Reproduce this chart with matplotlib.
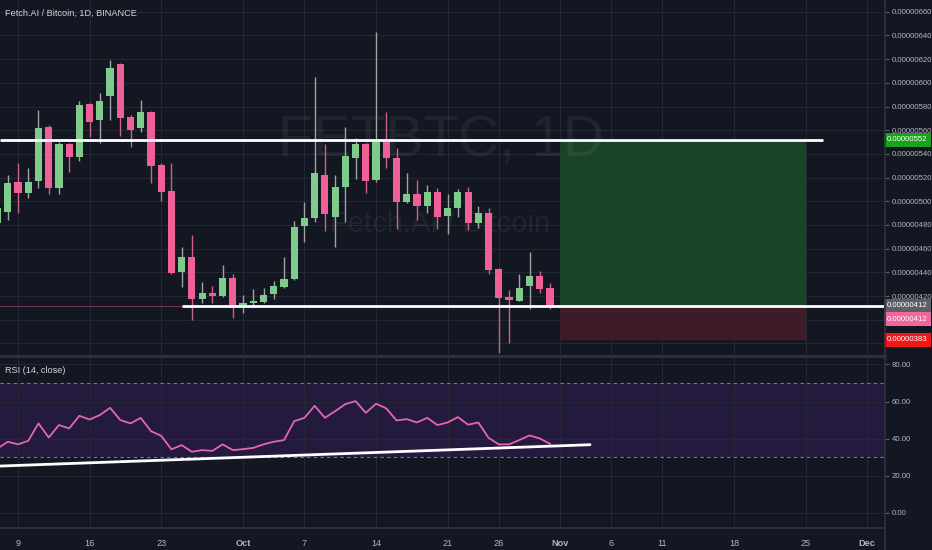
import matplotlib
matplotlib.use("agg")
import matplotlib.pyplot as plt
import matplotlib.dates as mdates
from matplotlib.lines import Line2D
import pandas as pd

plt.rcParams['font.family'] = ['Liberation Sans', 'DejaVu Sans']

# ---- data (price in units of 1e-8 BTC) ----
dates = pd.date_range("2019-09-07", "2019-10-31", freq="D")
opens = [481.7, 491.0, 516.3, 507.0, 517.1, 562.7, 511.2, 548.4, 537.4, 582.1, 568.6, 588.9,
         615.9, 571.1, 561.9, 575.4, 530.6, 508.7, 440.3, 453.0, 417.5, 422.6, 420.1, 435.3,
         412.5, 414.2, 415.0, 421.8, 427.7, 434.4, 479.2, 485.9, 522.2, 486.8, 512.1, 536.6,
         548.4, 518.0, 550.0, 536.6, 499.4, 506.2, 496.0, 507.8, 487.6, 494.3, 507.8, 481.7,
         490.1, 442.9, 419.2, 415.9, 428.5, 437.0, 426.8]
highs = [496.0, 522.2, 532.3, 528.1, 577.0, 564.0, 550.0, 549.2, 584.6, 583.0, 591.4, 619.2,
         616.5, 572.8, 585.5, 576.0, 532.3, 532.3, 461.4, 471.6, 431.9, 428.5, 446.2, 438.7,
         420.9, 426.0, 426.8, 432.7, 453.0, 483.4, 499.4, 604.9, 548.4, 522.2, 562.7, 553.4,
         549.0, 642.9, 575.4, 545.0, 523.9, 518.0, 513.8, 511.2, 506.2, 510.4, 512.1, 496.0,
         494.3, 443.5, 425.1, 438.7, 457.2, 441.2, 431.0]
lows = [478.0, 484.2, 490.1, 502.8, 511.2, 506.2, 506.2, 524.7, 534.0, 554.3, 549.2, 568.6,
        555.1, 545.9, 558.5, 515.4, 500.3, 439.0, 427.7, 399.8, 414.2, 414.2, 419.5, 401.5,
        405.7, 412.5, 414.2, 417.5, 427.0, 433.6, 465.7, 482.5, 475.0, 461.4, 482.5, 518.8,
        507.0, 516.3, 528.1, 476.7, 498.6, 484.2, 490.1, 476.7, 472.4, 486.8, 475.8, 477.5,
        438.7, 372.0, 380.4, 415.5, 409.1, 422.6, 409.1]
closes = [494.3, 515.4, 507.0, 516.3, 561.9, 511.2, 548.4, 537.4, 581.3, 566.9, 584.6, 612.5,
          570.3, 560.2, 575.4, 529.8, 507.8, 439.5, 453.0, 417.5, 422.6, 420.1, 435.3, 412.5,
          414.2, 415.9, 420.9, 428.5, 434.4, 478.3, 485.9, 523.9, 489.3, 512.1, 538.3, 548.4,
          517.1, 550.0, 536.6, 499.4, 506.2, 496.0, 507.8, 486.8, 494.3, 507.8, 481.7, 490.1,
          442.0, 418.4, 416.7, 426.8, 437.0, 426.0, 411.6]
rsi = [34.7, 38.3, 36.9, 38.8, 48.2, 40.6, 47.3, 45.5, 52.3, 50.3, 52.7, 56.6, 50.0, 48.2,
       51.2, 44.0, 41.5, 34.2, 36.5, 32.9, 33.8, 33.4, 36.9, 33.8,
       34.3, 35.0, 36.9, 38.3, 39.2, 49.4, 51.2, 57.7, 51.2, 54.8, 58.6, 60.2, 53.9, 58.8,
       56.3, 49.8, 50.5, 48.7, 51.2, 47.3, 48.7, 51.6, 47.5, 48.7, 40.4, 36.9, 36.9, 39.2,
       41.7, 40.1, 37.2]

resistance = 552
support = 411.3
last_price = 411.6
target, entry, stop = 552, 412, 383
pos_start, pos_end = "2019-11-01 00:00", "2019-11-25 00:00"
res_end = "2019-11-26 16:00"
sup_start = "2019-09-25 00:00"
rsi_trend_x = ["2019-09-07 00:00", "2019-11-03 22:00"]
rsi_trend_y = [25.15, 36.7]

tick_dates = ["2019-09-09", "2019-09-16", "2019-09-23", "2019-10-01", "2019-10-07", "2019-10-14",
              "2019-10-21", "2019-10-26", "2019-11-01", "2019-11-06", "2019-11-11", "2019-11-18",
              "2019-11-25", "2019-12-01"]
tick_labels = ["9", "16", "23", "Oct", "7", "14", "21", "26", "Nov", "6", "11", "18", "25", "Dec"]

# ---- style ----
BG = "#131722"
GRID = "#242834"
TXT = "#b2b5be"
UP = "#7fcb8c"
DOWN = "#ef6096"
UP_WICK = "#9da3a6"
DOWN_WICK = "#cf5f8b"


def dnum(values):
    return mdates.date2num(pd.to_datetime(values, format="%Y-%m-%d %H:%M"))


W, H = 932, 550
fig = plt.figure(figsize=(W / 100, H / 100), dpi=100, facecolor=BG)
ax1 = fig.add_axes([0, (H - 354) / H, 885 / W, 354 / H])
ax2 = fig.add_axes([0, (H - 528) / H, 885 / W, (528 - 357) / H])

x = mdates.date2num(dates)
d0 = mdates.date2num(pd.Timestamp("2019-09-09"))
xlim = (d0 - 18 / 10.23, d0 + 867 / 10.23)
ticks = mdates.date2num(pd.to_datetime(tick_dates, format="%Y-%m-%d"))

for ax in (ax1, ax2):
    ax.set_facecolor(BG)
    for s in ax.spines.values():
        s.set_visible(False)
    ax.set_xlim(*xlim)
    ax.set_xticks(ticks)
    ax.grid(True, color=GRID, lw=0.8)
    ax.set_axisbelow(True)
    ax.yaxis.tick_right()
    ax.tick_params(axis='y', colors="#5d606b", labelcolor=TXT, labelsize=5.6, length=3, pad=2)

# ---- price pane ----
ax1.set_ylim(371.1, 669.9)
yt = list(range(380, 661, 20))
ax1.set_yticks(yt)
# 380 and 400 sit under the stop / last-price boxes
ax1.set_yticklabels(["" if v < 420 else f"0.00000{v:03d}" for v in yt])
ax1.tick_params(axis='x', labelbottom=False, length=0)

pos_x = dnum([pos_start, pos_end])
ax1.fill_between(pos_x, entry, target, color="#1b4326", lw=0, zorder=1)
ax1.fill_between(pos_x, stop, entry, color="#3e1b26", lw=0, zorder=1)

ax1.text(0.498, 1 - 142 / 354, "FETBTC, 1D", transform=ax1.transAxes, ha='center',
         va='center', fontsize=41, color="white", alpha=0.06, zorder=2)
ax1.text(0.497, 1 - 224 / 354, "Fetch.AI / Bitcoin", transform=ax1.transAxes, ha='center',
         va='center', fontsize=21, color="white", alpha=0.06, zorder=2)

colors = [UP if c >= o else DOWN for o, c in zip(opens, closes)]
wick_colors = [UP_WICK if c >= o else DOWN_WICK for o, c in zip(opens, closes)]
ax1.vlines(x, lows, highs, colors=wick_colors, lw=1, zorder=3)
bottoms = [min(o, c) for o, c in zip(opens, closes)]
heights = [max(abs(c - o), 1.2) for o, c in zip(opens, closes)]
ax1.bar(x, heights, bottom=bottoms, width=0.7, color=colors, zorder=4)

ax1.axhline(last_price, color=DOWN, lw=0.6, alpha=0.5, zorder=2)
ax1.hlines(resistance, xlim[0], dnum([res_end])[0], color="white", lw=2, zorder=5)
ax1.hlines(support, dnum([sup_start])[0], xlim[1], color="white", lw=2, zorder=5)

ax1.text(5 / 885, 1 - 13 / 354, "Fetch.AI / Bitcoin, 1D, BINANCE", transform=ax1.transAxes,
         ha='left', va='center', fontsize=6.6, color="#d1d4dc")


def price_box(val, fc, dy=0):
    ax1.annotate(f"0.00000{val:03d}", xy=(1, val), xycoords=ax1.get_yaxis_transform(),
                 xytext=(1.6, dy), textcoords='offset points', ha='left', va='center',
                 fontsize=5.6, color="white", annotation_clip=False, zorder=20,
                 bbox=dict(boxstyle='square,pad=0.45', fc=fc, ec='none'))


price_box(target, "#17a31c")
price_box(entry, "#5c5f66")
price_box(entry, "#f0679c", dy=-10)
price_box(stop, "#f01818")

# ---- RSI pane ----
ax2.axhspan(30, 70, color="#231a3e", lw=0, zorder=0.5)
ax2.set_ylim(-8.2, 84.0)
ax2.set_yticks([0, 20, 40, 60, 80])
ax2.set_yticklabels(["0.00", "20.00", "40.00", "60.00", "80.00"])
for lvl in (30, 70):
    ax2.axhline(lvl, color="#787b86", lw=0.8, ls=(0, (3, 3)), zorder=1)
ax2.plot(x, rsi, color="#e465b4", lw=1.3, zorder=3)
ax2.plot(dnum(rsi_trend_x), rsi_trend_y, color="white", lw=2, zorder=4,
         solid_capstyle='round')
ax2.text(5 / 885, 0.922, "RSI (14, close)", transform=ax2.transAxes, ha='left',
         va='center', fontsize=6.6, color="#d1d4dc")

ax2.set_xticklabels(tick_labels)
ax2.tick_params(axis='x', length=0, pad=8, labelsize=6.6, labelcolor=TXT)
for lab in ax2.get_xticklabels():
    if lab.get_text() in ("Oct", "Nov", "Dec"):
        lab.set_fontweight('bold')

# pane separators and price-scale border
sep = "#2f333e"
fig.add_artist(Line2D([0, 885 / W], [1 - 355.5 / H] * 2, transform=fig.transFigure,
                      color=sep, lw=2))
fig.add_artist(Line2D([0, 885 / W], [1 - 528 / H] * 2, transform=fig.transFigure,
                      color=sep, lw=1.2))
fig.add_artist(Line2D([885 / W] * 2, [0, 1], transform=fig.transFigure, color=sep, lw=1.2))

fig.savefig("out.png", dpi=100, facecolor=BG)
